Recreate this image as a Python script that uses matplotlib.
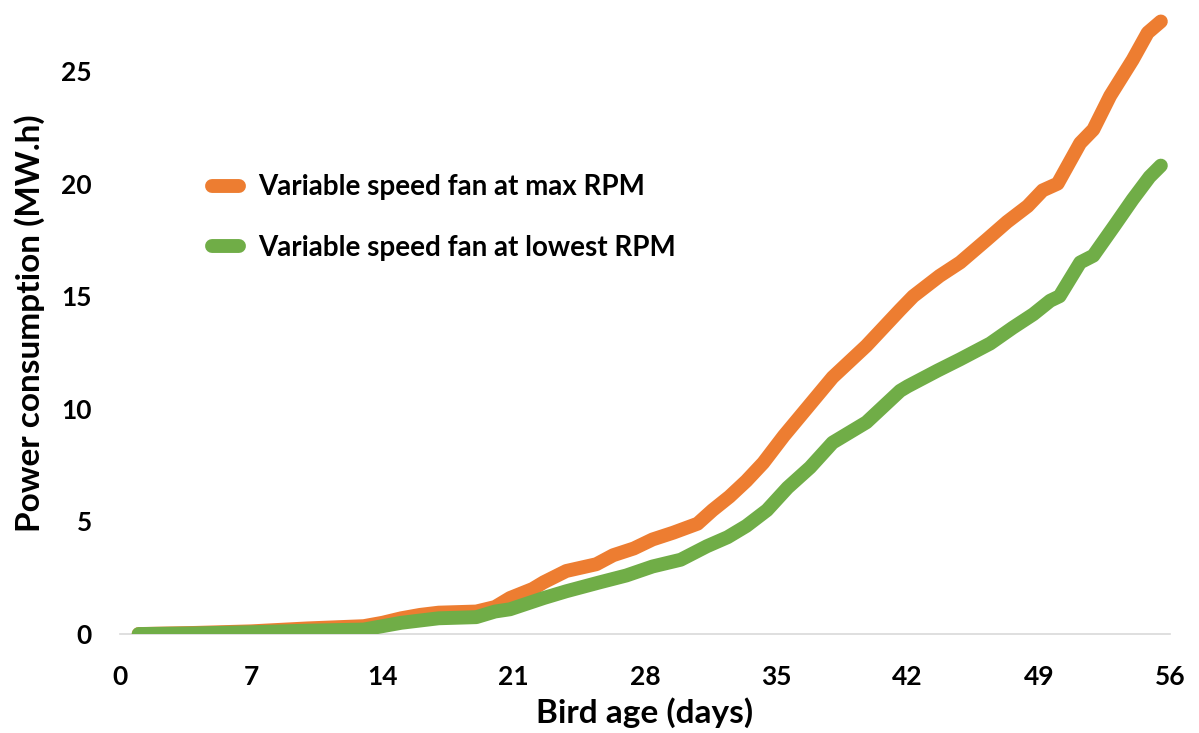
import matplotlib
matplotlib.use("Agg")
import matplotlib.pyplot as plt

plt.rcParams['font.family'] = ['Lato', 'DejaVu Sans']
plt.rcParams['font.weight'] = 'bold'

# Variable speed fan at max RPM: bird age (days) and cumulative power (MW.h)
days_max = [1, 4, 7, 10, 13, 14, 15, 16, 17, 19, 20, 20.8, 22, 22.6, 23.8, 25.4,
            26.3, 27.4, 28.4, 29.5, 30.8, 31.6, 32.5, 33.4, 34.3, 35.4, 36.6, 38.0,
            39.8, 41.6, 42.3, 43.7, 44.8, 46.2, 47.3, 48.4, 49.2, 50.0, 51.2, 51.9,
            52.8, 54.0, 54.8, 55.5]
power_max = [0.0, 0.05, 0.12, 0.25, 0.35, 0.5, 0.7, 0.85, 0.95, 1.0, 1.2, 1.6, 2.0,
             2.3, 2.8, 3.1, 3.5, 3.8, 4.2, 4.5, 4.9, 5.5, 6.1, 6.8, 7.6, 8.8, 10.0,
             11.4, 12.8, 14.4, 15.0, 15.9, 16.5, 17.5, 18.3, 19.0, 19.7, 20.0, 21.8,
             22.4, 23.9, 25.5, 26.7, 27.2]

# Variable speed fan at lowest RPM
days_low = [1, 4, 7, 10, 13, 14, 15, 16, 17, 19, 20, 20.8, 22.6, 23.8, 25.6, 27.0,
            28.4, 29.9, 31.3, 32.4, 33.4, 34.5, 35.6, 36.8, 38.0, 39.8, 41.6, 42.0,
            43.6, 44.8, 46.4, 47.6, 48.7, 49.6, 50.1, 51.2, 51.9, 53.0, 54.0, 54.9,
            55.5]
power_low = [0.0, 0.03, 0.08, 0.15, 0.2, 0.35, 0.5, 0.6, 0.7, 0.75, 1.0, 1.1, 1.6,
             1.9, 2.3, 2.6, 3.0, 3.3, 3.9, 4.3, 4.8, 5.5, 6.5, 7.4, 8.5, 9.4, 10.8,
             11.0, 11.7, 12.2, 12.9, 13.6, 14.2, 14.8, 15.0, 16.5, 16.8, 18.1, 19.3,
             20.3, 20.8]

x_ticks = [0, 7, 14, 21, 28, 35, 42, 49, 56]
y_ticks = [0, 5, 10, 15, 20, 25]

fig = plt.figure(figsize=(11.99, 7.33), dpi=100)
ax = fig.add_axes([0.1, 0.135, 0.876, 0.848])

ax.plot(days_max, power_max, color='#ED7D31', lw=10, solid_capstyle='round',
        label='Variable speed fan at max RPM', zorder=3)
ax.plot(days_low, power_low, color='#70AD47', lw=10, solid_capstyle='round',
        label='Variable speed fan at lowest RPM', zorder=3)

ax.set_xlim(0, 56)
ax.set_ylim(0, 27.6)
ax.set_xticks(x_ticks)
ax.set_yticks(y_ticks)
ax.tick_params(length=0, labelsize=19)
ax.tick_params(axis='x', pad=22)
ax.tick_params(axis='y', pad=20)
for lbl in ax.get_xticklabels() + ax.get_yticklabels():
    lbl.set_fontweight('bold')

# only a light baseline at zero
for s in ['top', 'right', 'left']:
    ax.spines[s].set_visible(False)
ax.spines['bottom'].set_color('#D9D9D9')
ax.spines['bottom'].set_linewidth(1.2)

ax.set_xlabel('Bird age (days)', fontsize=24, fontweight='bold', labelpad=6)
ax.set_ylabel('Power consumption (MW.h)', fontsize=24, fontweight='bold', labelpad=12)

leg = ax.legend(loc='upper left', bbox_to_anchor=(0.177, 0.762),
                bbox_transform=fig.transFigure, frameon=False, borderpad=0,
                borderaxespad=0, fontsize=20, handlelength=0.95,
                labelspacing=1.25, handletextpad=0.72)
for t in leg.get_texts():
    t.set_fontweight('bold')

fig.savefig('out.png', dpi=100)
